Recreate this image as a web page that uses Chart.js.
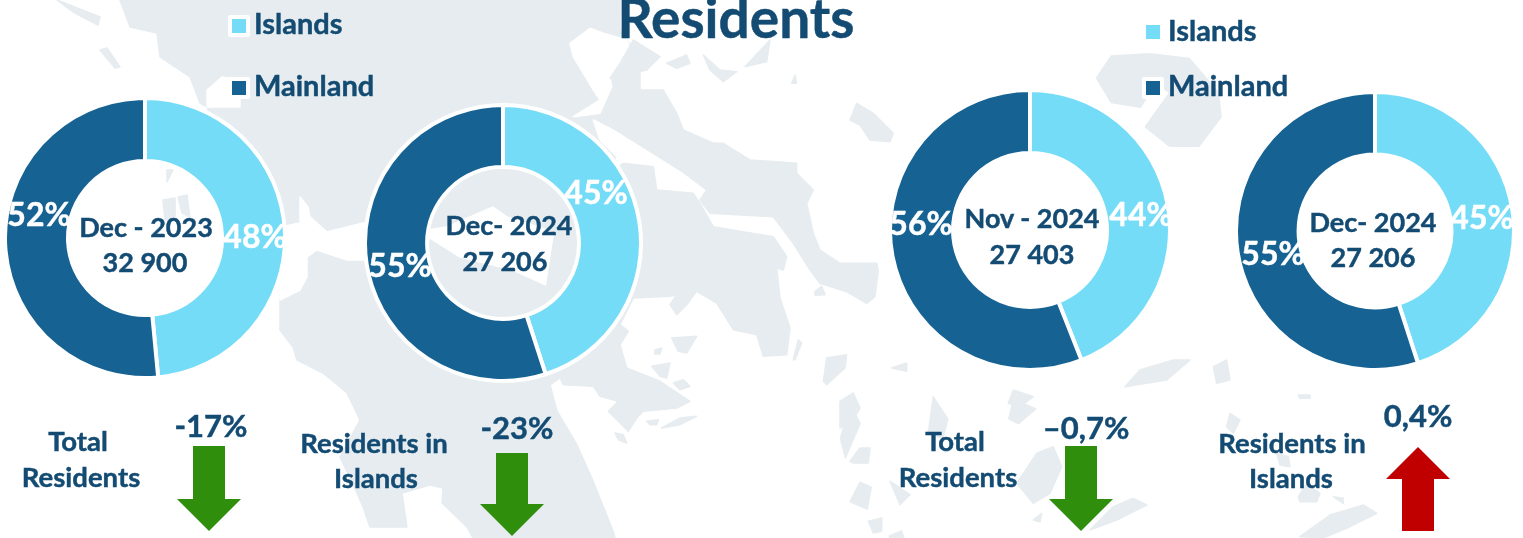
<!DOCTYPE html>
<html><head><meta charset="utf-8">
<script src="https://cdn.jsdelivr.net/npm/chart.js@4"></script>
<style>
html,body{margin:0;padding:0;background:#fff;overflow:hidden}
#stage{position:relative;width:1523px;height:538px;overflow:hidden;font-family:Lato,"Open Sans",sans-serif;font-weight:700;color:#134b73}
#stage svg{position:absolute;left:0;top:0}
#stage canvas{position:absolute}
.t{position:absolute;white-space:nowrap;transform:translate(-50%,-50%);line-height:1;-webkit-text-stroke:.45px currentColor}
.sw{position:absolute;border:4px solid #fff;border-radius:2px}
</style></head><body><div id="stage">
<svg id="map" width="1523" height="538"></svg>
<svg id="arrows" width="1523" height="538" style="z-index:3"></svg>
</div>
<script>
// ---- chart values
const seriesNames = ["Islands","Mainland"];
const islandsShare = [48.5,45,44,45];
const mainlandShare = [51.5,55,56,55];
const islandsLabels = ["48%","45%","44%","45%"];
const mainlandLabels = ["52%","55%","56%","55%"];
const periods = ["Dec - 2023","Dec- 2024","Nov - 2024","Dec- 2024"];
const totals = ["32 900","27 206","27 403","27 206"];
const changeNames = [["Total","Residents"],["Residents in","Islands"],["Total","Residents"],["Residents in","Islands"]];
const changeValues = ["-17%","-23%","\u20130,7%","0,4%"];
const changeDirections = ["down","down","down","up"];

// ---- styling & layout
const lightBlue="#75dcf7", darkBlue="#156293", green="#2f8e0c", red="#c00000", land="#e6ecef";
const donutCenters=[[145,238],[503,243],[1030,230],[1375,231]];
const donutSizes=[284,280,284,282];
const islandLabelPos=[[255,236],[596,192],[1141,214],[1482,217]];
const mainlandLabelPos=[[39,214],[400,265],[921,223],[1273,253]];
const periodPos=[[146,226],[509,224],[1032,217],[1373,221]];
const totalPos=[[145,261],[505,260],[1032,253],[1373,256]];
const namePos=[[[78,441],[81,477]],[[374,443],[376,478]],[[955,441],[958,477]],[[1292,443],[1291,478]]];
const changePos=[[211,425],[517,427],[1086,427],[1418,415]];
const arrowBoxes=[[209,446,531],[512,453,536],[1081,446,531],[1418,447,531]];

const stage=document.getElementById("stage");
function text(s,x,y,size,color,z){
  const d=document.createElement("div");d.className="t";d.textContent=s;
  d.style.left=x+"px";d.style.top=y+"px";d.style.fontSize=size+"px";
  if(color)d.style.color=color;d.style.zIndex=z||4;stage.appendChild(d);return d;
}

// ---- doughnuts
donutCenters.forEach((c,i)=>{
  const cv=document.createElement("canvas"),s=donutSizes[i];
  cv.style.left=(c[0]-s/2)+"px";cv.style.top=(c[1]-s/2)+"px";cv.style.width=s+"px";cv.style.height=s+"px";
  cv.style.zIndex=2;stage.appendChild(cv);
  new Chart(cv,{type:"doughnut",data:{labels:seriesNames,datasets:[{
    data:[islandsShare[i],mainlandShare[i]],backgroundColor:[lightBlue,darkBlue],
    borderColor:"#fff",borderWidth:4,hoverOffset:0}]},
    options:{responsive:false,animation:false,cutout:"55%",devicePixelRatio:1,
      layout:{padding:0},plugins:{legend:{display:false},tooltip:{enabled:false}}}});
  text(islandsLabels[i],islandLabelPos[i][0],islandLabelPos[i][1],32,"#fff");
  text(mainlandLabels[i],mainlandLabelPos[i][0],mainlandLabelPos[i][1],32,"#fff");
  text(periods[i],periodPos[i][0],periodPos[i][1],27);
  text(totals[i],totalPos[i][0],totalPos[i][1],27);
  text(changeNames[i][0],namePos[i][0][0],namePos[i][0][1],27.5);
  text(changeNames[i][1],namePos[i][1][0],namePos[i][1][1],27.5);
  text(changeValues[i],changePos[i][0],changePos[i][1],31);
});

// ---- title and legends
text("Residents",736,17,55);
[[228,15,22],[228,77,84],[1142,21,29],[1142,77,84]].forEach((p,i)=>{
  const d=document.createElement("div");d.className="sw";
  d.style.cssText+=`left:${p[0]}px;top:${p[1]}px;width:14px;height:14px;background:${i%2?darkBlue:lightBlue};z-index:4`;
  stage.appendChild(d);
  const l=text(seriesNames[i%2],p[0]+26,p[2],29);l.style.transform="translate(0,-50%)";
});

// ---- arrows
let ar="";
arrowBoxes.forEach((b,i)=>{
  const [x,t,e]=b,col=changeDirections[i]==="up"?red:green;
  if(changeDirections[i]==="down"){
    const h=e-32;
    ar+=`<polygon fill="${col}" points="${x-16},${t} ${x+16},${t} ${x+16},${h} ${x+32},${h} ${x},${e} ${x-32},${h} ${x-16},${h}"/>`;
  }else{
    const h=t+32;
    ar+=`<polygon fill="${col}" points="${x},${t} ${x+32},${h} ${x+16},${h} ${x+16},${e} ${x-16},${e} ${x-16},${h} ${x-32},${h}"/>`;
  }
});
document.getElementById("arrows").innerHTML=ar;

// ---- decorative background map
const z5=p=>p.map(([x,y])=>[x/3+520,y/3]);
const z6=p=>p.map(([x,y])=>[x/3+520,y/3+268]);
const z3=p=>p.map(([x,y])=>[x/2.05+760,y/2.05]);
const z8=p=>p.map(([x,y])=>[x/3+1000,y/3+360]);
const z4=p=>p.map(([x,y])=>[x/2.05+760,y/2.05+370]);
const mainland=[[120,0],[130,27],[157,33],[160,57],[190,77],[200,103],[207,107],[215,130],[225,190],[240,225],[280,227],[280,330],[293,347],[297,360],[323,373],[347,393],[360,420],[340,457],[357,493],[363,507],[370,527],[407,527],[402,493],[430,485],[443,488],[442,503],[467,527],[473,538],[615,538],[613,531],[593,481],[577,445],[557,411],[550,385],[560,378],[570,300],[610,170],[640,100],[640,60],[620,30],[620,0]];
const inlets=[
 [[280,227],[300,223],[300,197],[308,207],[310,217],[327,232],[363,223],[427,230],[447,227],[493,207],[507,217],[547,230],[580,246],[575,285],[557,290],[513,270],[460,257],[430,238],[363,260],[347,260],[317,250],[307,257],[307,277],[300,290],[280,300]],
 [[207,107],[207,90],[222,77],[240,80],[240,107]],
 z5([[150,130],[210,85],[250,100],[320,120],[340,170],[300,190],[270,235],[275,260],[220,270],[160,170]]),
 z5([[220,270],[275,260],[240,340],[160,350],[240,300]]),
 z5([[220,360],[300,400],[400,450],[480,510],[560,570],[540,600],[410,575],[400,500],[310,490],[240,420]])
];
const lands=[
 z5([[280,290],[340,270],[430,270],[470,340],[490,390],[580,430],[610,430],[690,480],[830,490],[830,520],[880,570],[860,610],[880,700],[900,750],[960,790],[1070,790],[1075,810],[1065,890],[1040,910],[980,875],[900,850],[870,810],[820,730],[760,650],[570,640],[540,600],[560,570],[480,510],[240,360]]),
 [...z5([[310,490],[400,500],[410,570],[520,580],[540,610],[580,680],[760,710],[800,770],[790,810]]),
  ...z6([[770,0],[780,90],[810,180],[800,260],[730,265],[710,200],[640,185],[590,105],[530,70],[450,85],[340,90],[300,170],[325,190],[300,230],[320,300],[420,340],[510,400],[470,420],[370,430],[350,450],[325,490],[265,430],[295,400],[240,385],[220,355],[130,350],[120,330]]),
  [540,330],[560,200]],
 [[57,0],[100,17],[98,25],[73,12]],[[100,50],[107,48],[120,67],[115,68]],
 [[167,170],[173,170],[167,182]],[[163,200],[175,198],[175,220],[165,220]],[[178,197],[187,195],[190,217],[182,213]],
 z5([[340,120],[420,170],[380,210],[270,235],[300,190]]),z5([[440,190],[500,165],[510,190],[470,205]]),
 z5([[550,165],[600,210],[650,215],[610,245],[570,210]]),z5([[675,200],[750,120],[740,185]]),
 z5([[990,360],[1010,310],[1060,340],[1120,400],[1110,425],[1050,420],[1020,375]]),z5([[815,250],[825,225],[830,250]]),
 z3([[690,160],[720,115],[800,110],[880,120],[940,190],[945,240],[900,300],[840,300],[790,260],[840,190],[810,170],[780,220],[720,210]]),
 z6([[910,340],[920,270],[980,260],[975,300],[920,350]]),z6([[960,400],[1000,375],[1020,420],[990,470],[960,480]]),
 z6([[990,580],[1020,540],[1050,540],[1045,585],[1000,585]]),z6([[1110,640],[1170,680],[1140,710]]),z6([[1115,300],[1160,285],[1160,310]]),
 z6([[820,275],[835,215],[845,225],[825,275]]),z6([[1045,760],[1085,750],[1085,790],[1060,795]]),
 z6([[455,210],[530,205],[500,255],[475,250]]),z6([[405,245],[425,240],[420,258],[405,258]]),z6([[395,295],[450,285],[440,330],[420,325]]),
 z6([[460,345],[490,335],[510,355],[480,365]]),z6([[425,480],[480,450],[530,445],[480,470]]),z6([[380,460],[415,455],[410,470],[390,470]]),
 z6([[285,495],[310,500],[320,525],[295,515]]),z6([[885,70],[905,55],[915,80],[885,82]]),z6([[450,110],[470,80],[530,70],[500,110],[470,140]]),
 z4([[165,140],[185,70],[205,110],[175,180]]),z4([[345,130],[355,55],[385,100],[375,140]]),z4([[185,270],[205,230],[228,240],[220,285]]),
 z4([[510,100],[520,60],[565,80],[530,110]]),z4([[265,340],[290,330],[310,385],[285,405]]),z4([[185,490],[250,450],[270,490],[200,500]]),
 z8([[50,370],[110,280],[160,260],[185,320],[150,400],[100,430]]),z8([[375,80],[420,30],[520,0],[570,0],[500,60]]),
 z8([[270,510],[340,440],[400,415],[440,435],[350,480]]),z8([[900,530],[990,465],[1090,435],[1130,460],[1050,500],[970,534]]),
 z8([[25,130],[40,90],[100,110],[60,140]]),z8([[895,410],[920,370],[960,400],[950,425],[900,425]]),z8([[830,280],[865,290],[870,320],[840,315]]),
 z8([[680,200],[690,160],[720,180],[700,220]]),z8([[1000,410],[1030,415],[1030,430]]),z8([[895,105],[930,105],[930,115],[900,115]]),
 z8([[640,20],[680,0],[690,60],[650,70]]),z8([[100,480],[125,460],[120,485]])
];
const poly=(p,f)=>`<polygon fill="${f}" stroke="${f}" stroke-width="1.5" stroke-linejoin="round" points="${p.map(q=>q.map(v=>v.toFixed(1)).join(",")).join(" ")}"/>`;
document.getElementById("map").innerHTML=poly(mainland,land)+inlets.map(p=>poly(p,"#fff")).join("")+lands.map(p=>poly(p,land)).join("");
</script></body></html>
